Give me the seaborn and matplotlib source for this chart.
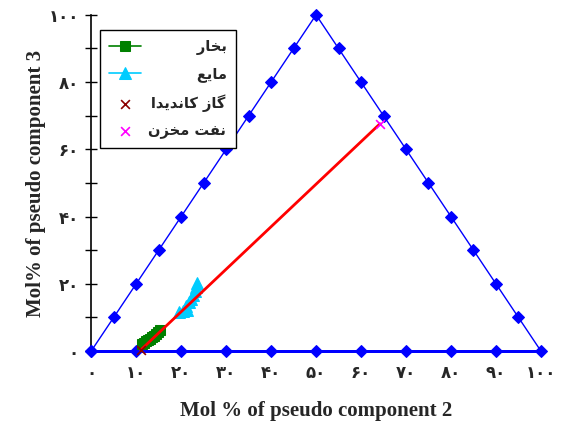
import matplotlib
matplotlib.use("Agg")
import matplotlib.pyplot as plt
import seaborn as sns
import pandas as pd

# Triangle boundary with a diamond every 10 mol%
tri_x = [0, 5, 10, 15, 20, 25, 30, 35, 40, 45, 50,
         55, 60, 65, 70, 75, 80, 85, 90, 95, 100,
         90, 80, 70, 60, 50, 40, 30, 20, 10, 0]
tri_y = [0, 10, 20, 30, 40, 50, 60, 70, 80, 90, 100,
         90, 80, 70, 60, 50, 40, 30, 20, 10, 0,
         0, 0, 0, 0, 0, 0, 0, 0, 0, 0]

# Vapour phase compositions
vap_x = [11.2, 11.7, 12.2, 12.6, 13.0, 13.5, 13.9, 14.3, 14.8, 15.3]
vap_y = [2.0, 2.3, 2.9, 3.3, 3.7, 4.1, 4.6, 5.1, 5.6, 6.3]

# Liquid phase compositions
liq_x = [19.6, 20.4, 21.2, 21.0, 21.7, 22.2, 22.6, 23.0, 23.3, 23.5]
liq_y = [11.6, 11.9, 12.3, 13.5, 14.5, 15.6, 16.8, 18.0, 19.2, 20.3]

# Candidate gas and reservoir oil
gas_x, gas_y = [11.0], [0.3]
oil_x, oil_y = [64.2], [67.6]

tick_vals = [0, 10, 20, 30, 40, 50, 60, 70, 80, 90, 100]
x_tick_labels = ["۰", "۱۰", "۲۰", "۳۰", "۴۰", "۵۰", "۶۰", "۷۰", "۸۰", "۹۰", "۱۰۰"]
y_tick_labels = ["۰", "", "۲۰", "", "۴۰", "", "۶۰", "", "۸۰", "", "۱۰۰"]

# Persian legend labels (presentation forms, visual order)
lbl_vap = "\uFEAD\uFE8E\uFEA8\uFE91"                      # بخار
lbl_liq = "\uFECA\uFEF3\uFE8E\uFEE3"                      # مایع
lbl_gas = "\uFE8D\uFEAA\uFEF3\uFEAA\uFEE7\uFE8E\uFB90 \uFEAF\uFE8E\uFB94"  # گاز کاندیدا
lbl_oil = "\uFEE5\uFEB0\uFEA8\uFEE3 \uFE96\uFED4\uFEE7"   # نفت مخزن
labels = [lbl_vap, lbl_liq, lbl_gas, lbl_oil]

legend_font = {"family": "DejaVu Sans", "weight": "bold", "size": 10.5}

sns.set_style("ticks")
fig, ax = plt.subplots(figsize=(5.7, 4.25), dpi=100)
fig.subplots_adjust(left=0.16, right=0.949, top=0.965, bottom=0.174)

# Right-align the Persian labels by padding them on the left with thin spaces
renderer = fig.canvas.get_renderer()
def text_width(s):
    t = fig.text(0, 0, s, fontdict=legend_font)
    w = t.get_window_extent(renderer).width
    t.remove()
    return w
widths = [text_width(s) for s in labels]
pad_w = text_width("\u2009" * 20) / 20
wmax = max(widths)
labels = ["\u2009" * int(round((wmax - w) / pad_w)) + s for s, w in zip(labels, widths)]

tri = pd.DataFrame({"x": tri_x, "y": tri_y})
sns.lineplot(data=tri, x="x", y="y", sort=False, estimator=None, errorbar=None,
             color="#0000FF", lw=1.0, marker="D", markersize=6.5,
             markeredgecolor="#0000FF", ax=ax, legend=False, clip_on=False, zorder=3)
base = tri[tri["y"] == 0]
sns.lineplot(data=base, x="x", y="y", sort=False, estimator=None, errorbar=None,
             color="#0000FF", lw=2.0, ax=ax, legend=False, clip_on=False, zorder=3)

# Tie line between candidate gas and reservoir oil
tie = pd.DataFrame({"x": gas_x + oil_x, "y": gas_y + oil_y})
sns.lineplot(data=tie, x="x", y="y", sort=False, estimator=None, errorbar=None,
             color="#FF0000", lw=2.0, ax=ax, legend=False, zorder=5)

vap = pd.DataFrame({"x": vap_x, "y": vap_y})
sns.lineplot(data=vap, x="x", y="y", sort=False, estimator=None, errorbar=None,
             color="#008000", lw=1.2, marker="s", markersize=7,
             markeredgecolor="#008000", ax=ax, label=labels[0], zorder=4)
liq = pd.DataFrame({"x": liq_x, "y": liq_y})
sns.lineplot(data=liq, x="x", y="y", sort=False, estimator=None, errorbar=None,
             color="#00CCFF", lw=1.2, marker="^", markersize=8,
             markeredgecolor="#00CCFF", ax=ax, label=labels[1], zorder=4)
sns.scatterplot(x=gas_x, y=gas_y, marker="x", color="#8B0000", s=40,
                linewidth=1.2, ax=ax, label=labels[2], zorder=6, clip_on=False)
sns.scatterplot(x=oil_x, y=oil_y, marker="x", color="#FF00FF", s=40,
                linewidth=1.2, ax=ax, label=labels[3], zorder=6)

ax.set_xlim(0, 100)
ax.set_ylim(0, 100)
ax.set_xticks(tick_vals)
ax.set_xticklabels(x_tick_labels, fontfamily="DejaVu Sans", fontweight="bold", fontsize=12)
ax.set_yticks(tick_vals)
ax.set_yticklabels(y_tick_labels, fontfamily="DejaVu Sans", fontweight="bold", fontsize=12)
ax.tick_params(axis="x", length=0, pad=9)
ax.tick_params(axis="y", direction="inout", length=8, width=1, pad=5, color="black")

for side in ("top", "right", "bottom"):
    ax.spines[side].set_visible(False)
ax.spines["left"].set_color("black")
ax.spines["left"].set_linewidth(1.2)

ax.set_xlabel("Mol % of pseudo component 2", fontfamily="Liberation Serif",
              fontweight="bold", fontsize=15, labelpad=14)
ax.set_ylabel("Mol% of pseudo component 3", fontfamily="Liberation Serif",
              fontweight="bold", fontsize=15, labelpad=2)

leg = ax.legend(loc="upper left", bbox_to_anchor=(0.02, 0.955), frameon=True,
                fancybox=False, edgecolor="black", framealpha=1, prop=legend_font,
                handlelength=2.2, handletextpad=0.5, borderpad=0.6,
                labelspacing=0.8, borderaxespad=0)
leg.get_frame().set_linewidth(1.0)

fig.savefig("out.png", dpi=100)
